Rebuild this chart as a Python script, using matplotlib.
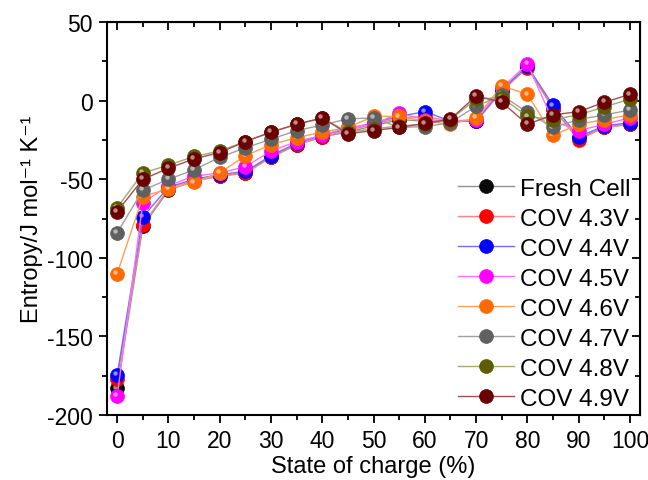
import matplotlib
matplotlib.use("Agg")
import matplotlib.pyplot as plt
from matplotlib.transforms import offset_copy

plt.rcParams['font.family'] = ['Liberation Sans', 'DejaVu Sans']
plt.rcParams['axes.unicode_minus'] = False

soc = [0, 5, 10, 15, 20, 25, 30, 35, 40, 45, 50, 55, 60, 65, 70, 75, 80, 85, 90, 95, 100]

fresh = [-183, -80, -57, -51, -48, -46, -36, -28, -23, -20, -16, -12, -13, -13, -13, 6, 22, -5, -24, -17, -15]
cov43 = [-177, -79, -56, -51, -48, -46, -36, -28, -23, -19, -15, -11, -10, -13, -13, 6, 21, -5, -25, -17, -15]
cov44 = [-174.5, -74, -55, -50, -47, -45, -35, -27, -22, -18, -14, -10, -7, -13, -13, 7, 22, -3, -23, -16, -14]
cov45 = [-188, -65, -54, -48, -46, -42, -32, -26, -22, -17, -15, -8, -12, -13, -12, 8, 23.5, -13, -19, -15, -11]
cov46 = [-110, -61, -56, -52, -46, -35, -28, -23.5, -20, -17, -10, -10, -13, -15, -11, 9.5, 4, -22, -15, -12, -9]
cov47 = [-84, -57, -50, -44, -36, -30, -24.5, -19, -15.5, -11.5, -11, -17, -16.5, -14, -3.5, 3.5, -7.5, -17, -12, -9, -6]
cov48 = [-68, -46, -41, -35.5, -32, -26, -20, -15, -11, -20, -18, -16, -15, -12, 1, 2, -10, -12, -9, -4, 1]
cov49 = [-70.5, -50, -43, -37, -33, -26, -20, -15, -11, -21, -19, -17, -14.5, -11.7, 3, -1, -15, -9, -7, -1, 4]

labels = ['Fresh Cell', 'COV 4.3V', 'COV 4.4V', 'COV 4.5V', 'COV 4.6V', 'COV 4.7V', 'COV 4.8V', 'COV 4.9V']
series = [fresh, cov43, cov44, cov45, cov46, cov47, cov48, cov49]
ball_colors = ['#0a0a0a', '#ff0000', '#0000ff', '#ff00ff', '#ff6a00', '#606060', '#5c5c00', '#6a0000']
line_colors = ['#909090', '#ff8080', '#6f6fff', '#ff70ff', '#ffa050', '#a0a0a0', '#a8a870', '#a05050']

fig = plt.figure(figsize=(6.48, 4.81), dpi=100)
ax = fig.add_axes([0.165, 0.135, 0.823, 0.817])

# shiny highlight drawn slightly up-left of each ball
hl = offset_copy(ax.transData, fig=fig, x=-1.8, y=1.8, units='dots')

for y, lab, bc, lc in zip(series, labels, ball_colors, line_colors):
    ax.plot(soc, y, '-', color=lc, lw=1.0, marker='o', ms=10, mfc=bc, mec=bc,
            mew=0.5, label=lab)
    ax.plot(soc, y, 'o', color='white', ms=3.2, alpha=0.55, mew=0, transform=hl)

ax.set_xlim(-2, 102)
ax.set_ylim(-200, 50)
ax.set_xticks(range(0, 101, 10))
ax.set_xticks(range(5, 100, 10), minor=True)
ax.set_yticks(range(-200, 51, 50))
ax.set_yticks(range(-175, 50, 50), minor=True)
ax.tick_params(which='major', direction='out', length=6, width=1.3, labelsize=16.5, pad=4)
ax.tick_params(which='minor', direction='out', length=3.5, width=1.3)
for s in ax.spines.values():
    s.set_linewidth(1.5)

# mirrored ticks on top and right, pointing in
top = ax.secondary_xaxis('top')
top.set_xticks(range(0, 101, 10))
top.set_xticks(range(5, 100, 10), minor=True)
top.tick_params(which='major', direction='in', length=6, width=1.3, labeltop=False)
top.tick_params(which='minor', direction='in', length=3.5, width=1.3)
right = ax.secondary_yaxis('right')
right.set_yticks(range(-200, 51, 50))
right.set_yticks(range(-175, 50, 50), minor=True)
right.tick_params(which='major', direction='in', length=6, width=1.3, labelright=False)
right.tick_params(which='minor', direction='in', length=3.5, width=1.3)

ax.set_xlabel('State of charge (%)', fontsize=17, labelpad=2)
ax.set_ylabel('Entropy/J mol\u207b\u00b9 K\u207b\u00b9', fontsize=17, labelpad=3)

leg = ax.legend(loc='lower right', bbox_to_anchor=(1.013, -0.03), frameon=False,
                fontsize=17.5, handlelength=2.3, handletextpad=0.25,
                labelspacing=0.33, borderaxespad=0.3)

fig.savefig('out.png', dpi=100)
